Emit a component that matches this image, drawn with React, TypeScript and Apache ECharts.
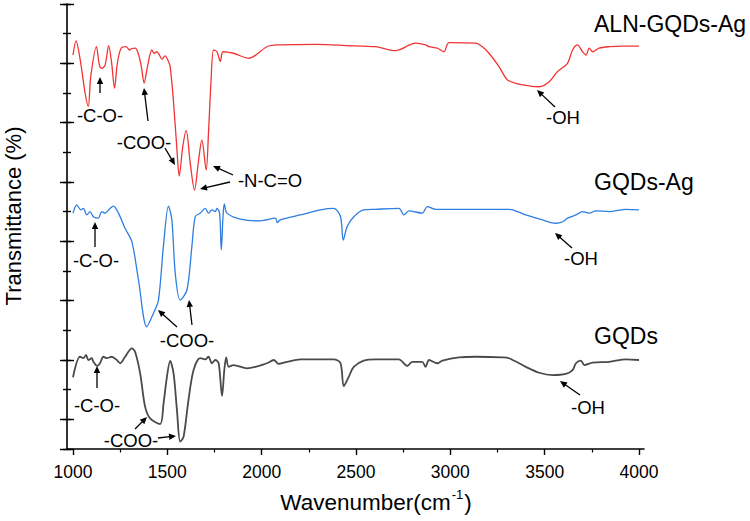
import React, { useEffect, useRef } from "react";
import * as echarts from "echarts";

const FONT = '"Liberation Sans", Arial, Helvetica, sans-serif';

// ALN-GQDs-Ag (red)
const alnWn = [1000, 1016, 1037, 1064, 1081, 1094, 1124, 1140, 1152, 1170, 1189, 1205, 1220, 1235, 1255, 1281, 1300, 1312, 1329, 1345, 1362, 1377, 1395, 1418, 1430, 1444, 1458, 1471, 1488, 1506, 1515, 1532, 1551, 1563, 1582, 1600, 1622, 1644, 1665, 1683, 1706, 1718, 1731, 1745, 1763, 1781, 1795, 1850, 1931, 2028, 2082, 2300, 2450, 2603, 2710, 2816, 2869, 2887, 2931, 2966, 2993, 3134, 3170, 3205, 3258, 3303, 3364, 3418, 3471, 3524, 3568, 3621, 3648, 3674, 3701, 3719, 3736, 3754, 3788, 3841, 3913, 4000];
const alnT = [13.28, 13.76, 13.17, 12.0, 11.54, 12.55, 13.56, 12.94, 12.83, 12.94, 13.6, 13.0, 12.16, 13.0, 13.51, 13.56, 13.45, 13.5, 13.51, 13.35, 12.9, 12.33, 12.9, 13.45, 13.34, 13.39, 13.28, 13.14, 13.25, 13.06, 12.89, 11.76, 10.08, 9.2, 10.2, 10.73, 9.6, 8.73, 9.7, 10.42, 9.4, 10.64, 12.33, 13.45, 13.39, 13.06, 13.39, 13.34, 13.17, 13.56, 13.62, 13.64, 13.6, 13.56, 13.43, 13.68, 13.62, 13.56, 13.51, 13.39, 13.7, 13.68, 13.56, 13.34, 12.89, 12.44, 12.3, 12.24, 12.21, 12.38, 12.72, 13.0, 13.45, 13.62, 13.39, 13.28, 13.51, 13.39, 13.51, 13.56, 13.58, 13.58];

// GQDs-Ag (blue)
const agWn = [1000, 1020, 1041, 1055, 1073, 1090, 1108, 1134, 1152, 1170, 1196, 1214, 1241, 1276, 1312, 1347, 1391, 1426, 1453, 1479, 1506, 1524, 1542, 1568, 1604, 1630, 1648, 1674, 1701, 1718, 1736, 1754, 1763, 1777, 1786, 1795, 1802, 1816, 1887, 1993, 2073, 2082, 2099, 2205, 2312, 2382, 2418, 2432, 2453, 2488, 2541, 2603, 2727, 2754, 2780, 2851, 2878, 2922, 3134, 3311, 3400, 3489, 3559, 3595, 3621, 3666, 3701, 3736, 3772, 3842, 3931, 4000];
const agT = [7.95, 8.23, 8.06, 8.11, 7.89, 8.0, 7.83, 7.78, 8.0, 7.95, 8.11, 8.19, 7.95, 7.44, 6.99, 5.7, 4.12, 4.57, 5.02, 6.82, 8.19, 7.72, 5.92, 5.02, 5.36, 6.82, 7.83, 7.95, 8.11, 7.95, 8.06, 8.0, 8.11, 7.95, 6.71, 7.83, 8.26, 7.95, 7.75, 7.69, 7.78, 7.63, 7.72, 7.89, 8.06, 8.11, 7.83, 7.04, 7.49, 7.83, 8.06, 8.08, 8.11, 7.89, 8.03, 7.95, 8.17, 8.08, 8.08, 8.08, 7.89, 7.72, 7.61, 7.66, 7.78, 7.89, 8.0, 7.95, 8.03, 8.0, 8.08, 8.06];

// GQDs (grey)
const gqWn = [1000, 1037, 1055, 1069, 1081, 1099, 1108, 1129, 1143, 1161, 1179, 1205, 1232, 1250, 1276, 1312, 1329, 1356, 1382, 1409, 1462, 1480, 1498, 1515, 1533, 1551, 1568, 1586, 1612, 1639, 1674, 1701, 1718, 1736, 1754, 1772, 1790, 1802, 1812, 1825, 1851, 1922, 2028, 2064, 2090, 2135, 2205, 2382, 2418, 2435, 2462, 2488, 2541, 2603, 2727, 2772, 2798, 2851, 2869, 2887, 2931, 2958, 3046, 3134, 3276, 3311, 3400, 3471, 3542, 3612, 3648, 3666, 3692, 3710, 3754, 3842, 3931, 4000];
const gqT = [2.42, 3.11, 3.06, 3.17, 3.0, 3.06, 2.94, 2.8, 2.89, 3.11, 3.06, 3.11, 3.0, 2.89, 3.11, 3.39, 3.28, 2.55, 1.43, 1.03, 0.84, 1.54, 2.44, 2.97, 2.55, 1.31, 0.25, 0.41, 1.65, 2.66, 3.06, 3.02, 3.11, 2.89, 3.0, 2.89, 1.79, 2.66, 3.09, 2.77, 2.83, 2.72, 2.89, 3.0, 2.87, 2.94, 3.02, 3.02, 2.89, 2.12, 2.44, 2.77, 2.98, 3.02, 3.02, 2.8, 2.94, 2.94, 2.77, 3.0, 2.89, 2.98, 3.09, 3.11, 3.09, 3.06, 2.77, 2.57, 2.49, 2.53, 2.66, 2.89, 2.98, 2.83, 2.91, 2.94, 3.02, 3.0];

const xTicks = [1000, 1500, 2000, 2500, 3000, 3500, 4000];
const seriesNames = ["ALN-GQDs-Ag", "GQDs-Ag", "GQDs"];
const seriesColors = ["#f23434", "#2d7ee0", "#4a4a4a"];

// annotation labels: [text, x, y]
const notes: [string, number, number][] = [
  ["-C-O-", 100, 115],
  ["-COO-", 144, 142],
  ["-N-C=O", 270, 180],
  ["-OH", 563, 117],
  ["-C-O-", 96, 260],
  ["-COO-", 187, 340],
  ["-OH", 581, 258],
  ["-C-O-", 97, 405],
  ["-COO-", 131, 440],
  ["-OH", 588, 407],
];
// arrows: [x1, y1, x2 (head), y2 (head)]
const arrows: [number, number, number, number][] = [
  [100, 93, 100, 77],
  [148, 121, 144, 88],
  [165, 148, 175, 165],
  [233, 175, 213, 166],
  [230, 182, 200, 189],
  [555, 107, 537, 90],
  [95, 247, 95, 222],
  [177, 327, 158, 310],
  [192, 325, 189, 300],
  [572, 248, 555, 233],
  [97, 388, 97, 366],
  [135, 429, 147, 417],
  [158, 438, 176, 436],
  [580, 395, 560, 381],
];
const nameLabels: [string, number, number][] = [
  ["ALN-GQDs-Ag", 594, 24],
  ["GQDs-Ag", 594, 182],
  ["GQDs", 594, 336],
];

function zip(a: number[], b: number[]) {
  return a.map((v, i) => [v, b[i]]);
}

function arrowEls(x1: number, y1: number, x2: number, y2: number) {
  const dx = x2 - x1, dy = y2 - y1;
  const len = Math.hypot(dx, dy);
  const ux = dx / len, uy = dy / len;
  const hl = 7, hw = 3.2;
  const bx = x2 - ux * hl, by = y2 - uy * hl;
  const px = -uy, py = ux;
  return [
    { type: "line", silent: true, z: 100, shape: { x1, y1, x2: bx + ux, y2: by + uy }, style: { stroke: "#000", lineWidth: 1.3 } },
    { type: "polygon", silent: true, z: 100, shape: { points: [[x2, y2], [bx + px * hw, by + py * hw], [bx - px * hw, by - py * hw]] }, style: { fill: "#000" } },
  ];
}

export default function App() {
  const ref = useRef<HTMLDivElement>(null);
  useEffect(() => {
    if (!ref.current) return;
    const chart = echarts.init(ref.current, null, { renderer: "svg" });
    const s = 565.6 / 3000; // px per cm-1
    const XMIN = 1000 - (73 - 67) / s;
    const XMAX = 4000 + (644 - 639) / s;
    const mainGrid = { left: 67, right: 106, top: 4, bottom: 72 };
    const hiddenX = (gi: number) => ({ gridIndex: gi, type: "value", show: false, min: XMIN, max: XMAX });
    const tickStyle = { color: "#000", width: 1.4 };
    const graphics: any[] = [];
    notes.forEach(([t, x, y]) =>
      graphics.push({ type: "text", silent: true, z: 100, x, y, style: { text: t, font: `18.5px ${FONT}`, fill: "#000", align: "center", verticalAlign: "middle", textAlign: "center", textVerticalAlign: "middle" } })
    );
    arrows.forEach(([a, b, c, d]) => graphics.push(...arrowEls(a, b, c, d)));
    nameLabels.forEach(([t, x, y]) =>
      graphics.push({ type: "text", silent: true, z: 100, x, y, style: { text: t, font: `23px ${FONT}`, fill: "#000", align: "left", verticalAlign: "middle", textAlign: "left", textVerticalAlign: "middle" } })
    );
    graphics.push({
      type: "text", silent: true, z: 100, x: 13, y: 216, rotation: Math.PI / 2,
      style: { text: "Transmittance (%)", font: `22px ${FONT}`, fill: "#000", align: "center", verticalAlign: "middle", textAlign: "center", textVerticalAlign: "middle" },
    });
    graphics.push({
      type: "text", silent: true, z: 100, x: 376, y: 501,
      style: {
        text: "{a|Wavenumber(cm}{s|-1}{a|)}",
        align: "center", verticalAlign: "middle", textAlign: "center", textVerticalAlign: "middle",
        rich: {
          a: { fontSize: 22.5, fontFamily: FONT, fill: "#000", color: "#000", lineHeight: 26, verticalAlign: "bottom" },
          s: { fontSize: 13, fontFamily: FONT, fill: "#000", color: "#000", lineHeight: 26, verticalAlign: "top", padding: [0, 1, 0, 1] },
        },
      },
    });

    const datasets = [zip(alnWn, alnT), zip(agWn, agT), zip(gqWn, gqT)];

    chart.setOption({
      animation: false,
      backgroundColor: "#fff",
      grid: [mainGrid, { left: 73, right: 111, top: 4, bottom: 72 }, mainGrid, mainGrid, mainGrid],
      xAxis: [
        {
          gridIndex: 0, type: "value", min: XMIN, max: XMAX,
          axisLine: { show: true, onZero: false, lineStyle: { color: "#000", width: 1.6 } },
          axisTick: { show: false }, axisLabel: { show: false }, splitLine: { show: false },
        },
        {
          gridIndex: 1, type: "value", min: xTicks[0], max: xTicks[xTicks.length - 1], interval: 500,
          axisLine: { show: false, onZero: false },
          axisTick: { show: true, length: 6, lineStyle: tickStyle },
          minorTick: { show: true, splitNumber: 2, length: 3.5, lineStyle: { color: "#000", width: 1.2 } },
          axisLabel: { margin: 14, fontSize: 17.5, color: "#000", fontFamily: FONT, formatter: (v: number) => String(v) },
          splitLine: { show: false },
        },
        hiddenX(2), hiddenX(3), hiddenX(4),
      ],
      yAxis: [
        {
          gridIndex: 0, type: "value", min: 0, max: 15, interval: 1,
          axisLine: { show: true, onZero: false, lineStyle: { color: "#000", width: 1.6 } },
          axisTick: { show: true, inside: true, length: 4, lineStyle: tickStyle },
          axisLabel: { show: false }, splitLine: { show: false },
        },
        { gridIndex: 1, type: "value", show: false, min: 0, max: 15 },
        {
          gridIndex: 2, type: "value", min: 0, max: 15, interval: 1,
          axisLine: { show: false, onZero: false },
          axisTick: { show: true, inside: false, length: 4, lineStyle: tickStyle },
          axisLabel: { show: false }, splitLine: { show: false },
        },
        {
          gridIndex: 3, type: "value", inverse: true, min: 0, max: 15, interval: 2,
          axisLine: { show: false, onZero: false },
          axisTick: { show: true, inside: true, length: 7, lineStyle: tickStyle },
          axisLabel: { show: false }, splitLine: { show: false },
        },
        {
          gridIndex: 4, type: "value", inverse: true, min: 0, max: 15, interval: 2,
          axisLine: { show: false, onZero: false },
          axisTick: { show: true, inside: false, length: 7, lineStyle: tickStyle },
          axisLabel: { show: false }, splitLine: { show: false },
        },
      ],
      series: datasets.map((d, i) => ({
        name: seriesNames[i],
        type: "line",
        xAxisIndex: 0,
        yAxisIndex: 0,
        data: d,
        showSymbol: false,
        symbol: "none",
        smooth: 0.3,
        lineStyle: { color: seriesColors[i], width: i === 2 ? 1.8 : 1.3 },
        itemStyle: { color: seriesColors[i] },
      })),
      graphic: graphics,
    });
    return () => chart.dispose();
  }, []);
  return <div ref={ref} style={{ position: "fixed", left: 0, top: 0, width: 750, height: 521, background: "#fff" }} />;
}
